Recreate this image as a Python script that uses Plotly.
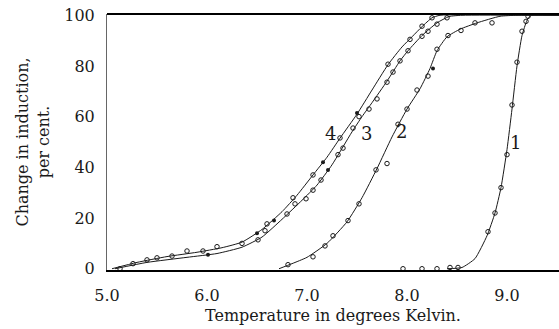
import plotly.graph_objects as go

# ---- data ----
x_ticks = [5.0, 6.0, 7.0, 8.0, 9.0]
x_tick_labels = ["5.0", "6.0", "7.0", "8.0", "9.0"]
y_ticks = [0, 20, 40, 60, 80, 100]
y_tick_labels = ["0", "20", "40", "60", "80", "100"]

# smooth curves drawn through the measurements
c1_x = [8.40, 8.55, 8.68, 8.80, 8.88, 8.94, 9.00, 9.05, 9.10, 9.15, 9.20, 9.24, 9.52]
c1_y = [0, 0.5, 4, 13, 22, 32, 47, 63, 80, 92, 98, 100, 100]

c2_x = [6.72, 6.85, 7.00, 7.20, 7.40, 7.55, 7.70, 7.85, 8.00, 8.13, 8.23, 8.30, 8.40, 8.53, 8.70, 8.93, 9.10, 9.52]
c2_y = [0, 2, 4.5, 10, 18.5, 28, 39.5, 52, 63, 71, 79, 86, 91.5, 94.5, 97, 99.6, 100, 100]

c3_x = [5.08, 5.40, 5.80, 6.10, 6.35, 6.55, 6.75, 6.95, 7.10, 7.25, 7.45, 7.55, 7.65, 7.80, 7.93, 8.01, 8.15, 8.30, 8.42, 8.55, 9.52]
c3_y = [0, 2.5, 4.5, 6, 8.5, 12.5, 19.5, 27, 33, 41, 54, 60, 65.5, 74, 82, 86, 92, 97, 99.5, 100, 100]

c4_x = [5.05, 5.30, 5.60, 5.90, 6.15, 6.35, 6.55, 6.75, 6.90, 7.06, 7.20, 7.33, 7.50, 7.65, 7.81, 7.95, 8.05, 8.15, 8.25, 8.33, 9.52]
c4_y = [0, 2.5, 4.8, 6.5, 8.3, 10.5, 15.5, 22.5, 29, 37, 44, 51.5, 61, 70.5, 80.5, 87.5, 91.5, 95.5, 99, 100, 100]

# measured points (open circles)
p1_x = [7.96, 8.15, 8.30, 8.43, 8.51, 8.81, 8.88, 8.94, 9.00, 9.05, 9.10, 9.15, 9.19, 9.21]
p1_y = [0, 0, 0, 0.5, 0.5, 14.6, 22, 32, 45, 64.6, 81.5, 93.7, 97.6, 99.6]

p2_x = [6.81, 7.06, 7.18, 7.26, 7.41, 7.52, 7.69, 7.80, 7.91, 8.00, 8.10, 8.21, 8.30, 8.41, 8.54, 8.68, 8.85]
p2_y = [1.6, 4.7, 9, 13, 19, 25.6, 39, 41.5, 57, 63, 70.5, 76, 86.6, 92, 94, 97, 97]

p3_x = [6.51, 6.58, 6.80, 6.88, 6.99, 7.06, 7.14, 7.31, 7.36, 7.46, 7.52, 7.62, 7.70, 7.80, 7.86, 7.93, 8.01, 8.15, 8.21, 8.30, 8.40]
p3_y = [11.4, 15, 21.6, 25.6, 27.6, 31, 35, 45, 47.6, 55.5, 60, 63, 67, 73.6, 77.6, 82, 86, 91.7, 93.7, 96.5, 99]

p4_x = [5.13, 5.26, 5.40, 5.50, 5.65, 5.80, 5.96, 6.10, 6.35, 6.60, 6.86, 7.06, 7.33, 7.81, 8.03, 8.15, 8.25]
p4_y = [0, 2, 3.5, 4.3, 5, 7, 7, 8.7, 10, 17.7, 28, 37, 51.6, 80.7, 90.5, 95.7, 99]

# measured points (filled dots)
pf_x = [6.01, 6.50, 6.67, 7.16, 7.21, 7.50, 8.26]
pf_y = [5.5, 14, 19, 42, 39, 61.4, 79]

curve_labels = ["1", "2", "3", "4"]
label_x = [9.08, 7.94, 7.59, 7.23]
label_y = [50, 54, 53.5, 53.5]

INK = "#1a1a1a"
FONT = "DejaVu Serif"

fig = go.Figure()
for cx, cy in [(c1_x, c1_y), (c2_x, c2_y), (c3_x, c3_y), (c4_x, c4_y)]:
    fig.add_trace(go.Scatter(x=cx, y=cy, mode="lines",
                             line=dict(color=INK, width=1, shape="spline", smoothing=0.5),
                             hoverinfo="skip", showlegend=False))
for px, py in [(p1_x, p1_y), (p2_x, p2_y), (p3_x, p3_y), (p4_x, p4_y)]:
    fig.add_trace(go.Scatter(x=px, y=py, mode="markers",
                             marker=dict(symbol="circle-open", size=4.5, color=INK, line=dict(width=1, color=INK)),
                             showlegend=False))
fig.add_trace(go.Scatter(x=pf_x, y=pf_y, mode="markers",
                         marker=dict(symbol="circle", size=4, color=INK),
                         showlegend=False))

for t, lx, ly in zip(curve_labels, label_x, label_y):
    fig.add_annotation(x=lx, y=ly, text=t, showarrow=False,
                       font=dict(family=FONT, size=18, color=INK))

# heavy top border
fig.add_shape(type="line", xref="paper", yref="paper", x0=0, x1=1, y0=1, y1=1,
              line=dict(color="#000", width=2))

fig.update_layout(
    width=559, height=329,
    margin=dict(l=107, r=0, t=14, b=59),
    paper_bgcolor="white", plot_bgcolor="white",
    font=dict(family=FONT, color=INK, size=16),
    xaxis=dict(range=[5.0, 9.52], tickvals=x_ticks, ticktext=x_tick_labels,
               showgrid=False, zeroline=False, showline=True, linecolor="#000", linewidth=1.5,
               ticks="", ticklabelstandoff=10, automargin=False,
               title=dict(text="Temperature in degrees Kelvin.", font=dict(size=16), standoff=6)),
    yaxis=dict(range=[-0.5, 100.5], tickvals=y_ticks, ticktext=y_tick_labels,
               showgrid=False, zeroline=False, showline=True, linecolor="#666", linewidth=1,
               ticks="", ticklabelstandoff=8, automargin=False,
               title=dict(text="Change in induction,<br>per cent.", font=dict(size=16), standoff=10)),
)

fig.write_html("out.html", config={"displayModeBar": False},
               post_script="document.body.style.margin='0';document.body.style.overflow='hidden';")
